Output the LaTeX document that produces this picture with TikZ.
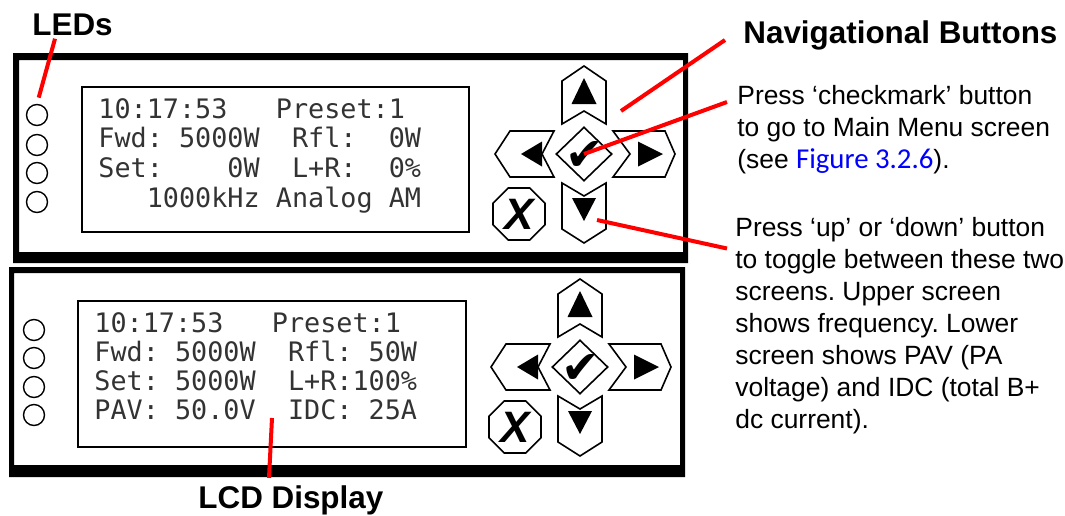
\documentclass[tikz,border=0pt]{standalone}
\usepackage{fontspec}
\setmainfont{Liberation Sans}
\newfontfamily\lcdfont{DejaVu Sans Mono}
\newfontfamily\figfont{Carlito}
\newfontfamily\symfont{DejaVu Sans}
\usetikzlibrary{positioning, shapes.geometric}
\frenchspacing

\tikzset{
  panel/.style={fill=black, even odd rule},
  lcd/.style={draw, line width=1.4pt},
  led/.style={draw, circle, line width=0.7pt, minimum size=10.5pt, inner sep=0pt},
  lcdline/.style={anchor=base west, inner sep=0pt, text=black!80,
    font=\lcdfont\fontsize{13.4}{16}\selectfont},
  btn/.style={draw, line width=0.8pt, line join=miter},
  okbtn/.style={btn, diamond, minimum width=28pt, minimum height=27pt, inner sep=0pt},
  xbtn/.style={btn, regular polygon, regular polygon sides=8, minimum size=28.1pt, inner sep=0pt,
    font=\bfseries\itshape\fontsize{22}{22}\selectfont},
  heading/.style={anchor=base west, inner sep=0pt, font=\bfseries\fontsize{15.7}{18}\selectfont},
  note/.style={anchor=base west, inner sep=0pt, font=\fontsize{13.2}{16}\selectfont},
  pin/.style={red, line width=2pt},
}

% #1 name, #2 x, #3 y of the button pad centre
\newcommand{\navpad}[3]{
\begin{scope}[shift={(#2,#3)}]
  \draw[btn] (0,-88) -- (22,-73) -- (22,-30) -- (0,-43) -- (-22,-30) -- (-22,-73) -- cycle;
  \fill (0,-76) -- (12.5,-50) -- (-12.5,-50) -- cycle;
  \draw[btn] (0,89) -- (22,75) -- (22,29) -- (0,42) -- (-22,29) -- (-22,75) -- cycle;
  \fill (0,67) -- (12,44) -- (-12,44) -- cycle;
  \draw[btn] (-89,0) -- (-74,-23) -- (-30,-23) -- (-42,0) -- (-30,23) -- (-74,23) -- cycle;
  \fill (-63,0) -- (-42,-12.5) -- (-42,12.5) -- cycle;
  \draw[btn] (91,0) -- (81,-23) -- (29,-23) -- (46,0) -- (29,23) -- (81,23) -- cycle;
  \fill (79,0) -- (54,-12.5) -- (54,12.5) -- cycle;
  \node[okbtn] (#1-ok) at (0,0) {};
  \node[inner sep=0pt, font=\symfont\fontsize{23}{23}\selectfont] (#1-tick) at (1,2) {✔};
  \node[xbtn] (#1-x) at (-65,60) {X};
  \coordinate (#1-mark) at (37,-43);
  \coordinate (#1-press) at (13,66);
\end{scope}}

\begin{document}
\begin{tikzpicture}[x=0.5pt, y=-0.5pt]
\useasboundingbox (0,0) rectangle (1065,515);

% upper screen
\fill[panel] (13,53) rectangle (688,263) (19,60) rectangle (683,252);
\draw[lcd] (82,87) rectangle (469,232);
\foreach \y [count=\i] in {115,145,173,202}
  \node[led] (top-led\i) at (37,\y) {};
\foreach \l [count=\i] in {{10:17:53~~~Preset:1},{Fwd:~5000W~~Rfl:~~0W},
    {Set:~~~~0W~~L+R:~~0\%},{~~~1000kHz~Analog~AM}}
  \node[lcdline] (top-line\i) at (98,{118+29.7*(\i-1)}) {\l};
\navpad{top}{584}{154}

% lower screen
\fill[panel] (9,267) rectangle (685,477) (14,273) rectangle (680,465);
\draw[lcd] (78,301) rectangle (466,447);
\foreach \y [count=\i] in {330,358,387,415}
  \node[led] (low-led\i) at (34,\y) {};
\foreach \l [count=\i] in {{10:17:53~~~Preset:1},{Fwd:~5000W~~Rfl:~50W},
    {Set:~5000W~~L+R:100\%},{PAV:~50.0V~~IDC:~25A}}
  \node[lcdline] (low-line\i) at (94,{332+29.3*(\i-1)}) {\l};
\navpad{low}{580}{367}
\coordinate (lcd-spot) at (272,418);

% labels
\node[heading] (leds) at (32,35) {LEDs};
\node[heading] (navlabel) at (743,43) {Navigational Buttons};
\node[heading] (lcdlabel) at (198,508) {LCD Display};
\foreach \l [count=\i] in {{Press ‘checkmark’ button},{to go to Main Menu screen},
    {(see {\figfont\fontsize{14.4}{16}\selectfont\color{blue}Figure 3.2.6}).}}
  \node[note] (oknote\i) at (737,{104+32*(\i-1)}) {\l};
\foreach \l [count=\i] in {{Press ‘up’ or ‘down’ button},{to toggle between these two},
    {screens. Upper screen},{shows frequency. Lower},{screen shows PAV (PA},
    {voltage) and IDC (total B+},{dc current).}}
  \node[note] (updownnote\i) at (735,{236.5+32*(\i-1)}) {\l};

% red pointers
\draw[pin, shorten >=3.2pt] ([xshift=11.5pt,yshift=-1.5pt]leds.south west) -- (top-led1.north);
\draw[pin] ([xshift=-9pt,yshift=1.5pt]navlabel.base west) -- (top-mark);
\draw[pin] ([xshift=-5pt,yshift=1pt]oknote1.base west) -- (top-ok.center);
\draw[pin] ([xshift=-4pt,yshift=-6pt]updownnote1.base west) -- (top-press);
\draw[pin] (lcd-spot) -- ([xshift=35.5pt,yshift=3.5pt]lcdlabel.north west);
\end{tikzpicture}
\end{document}
